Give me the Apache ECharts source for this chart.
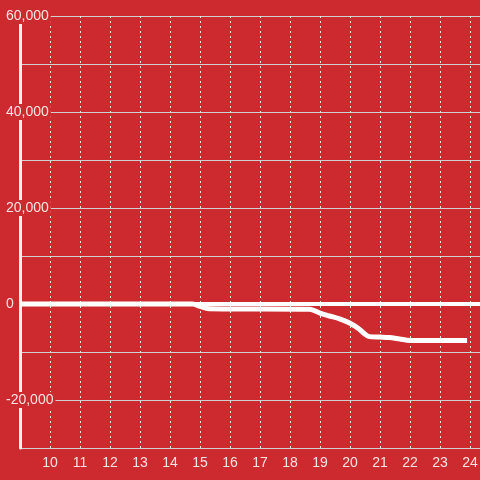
<html>
    <head>
        <meta charset="utf-8">
        <script src="https://cdn.jsdelivr.net/npm/echarts@6/dist/echarts.min.js"></script>
        <style>
            html, body { margin: 0; padding: 0; background: #cd2a2f; }
            #main { width: 480px; height: 480px; }
        </style>
    </head>
    <body>
        <div id="main"></div>
        <script>
        // hour of day and running value
        var hours = [9.0, 14.75, 15.0, 15.3, 18.65, 19.0, 19.32, 19.65, 20.0, 20.3, 20.5, 20.65, 21.0, 21.3, 21.65, 22.0, 23.9];
        var values = [0, 0, -500, -1000, -1100, -1900, -2500, -3100, -4000, -5200, -6300, -6800, -6900, -7000, -7300, -7600, -7600];
        var yTicks = [-30000, 60000, 10000];   // min, max, step
        var xTicks = [9, 24.33, 1];

        var bg = '#cd2a2f';
        var txt = '#f5e3e3';

        var chart = echarts.init(document.getElementById('main'));
        var pts = hours.map(function (h, i) { return [h, values[i]]; });

        chart.setOption({
            backgroundColor: bg,
            animation: false,
            grid: { left: 20, right: 0, top: 16, bottom: 32, outerBoundsMode: 'none' },
            xAxis: {
                type: 'value',
                min: xTicks[0], max: xTicks[1], interval: xTicks[2],
                axisLine: { lineStyle: { color: '#cfcfcf', width: 1 } },
                axisTick: { show: false },
                axisLabel: {
                    color: txt, fontSize: 14, margin: 8,
                    formatter: function (v) { return (Number.isInteger(v) && v > 9) ? String(v) : ''; }
                },
                splitLine: { show: true, lineStyle: { color: '#e6e6e6', type: [2, 3], width: 1 } }
            },
            yAxis: {
                type: 'value',
                min: yTicks[0], max: yTicks[1], interval: yTicks[2],
                axisLine: { show: true, lineStyle: { color: '#f2f2f2', width: 3 } },
                axisTick: { show: false },
                axisLabel: {
                    color: txt, fontSize: 14, margin: 14, align: 'left',
                    backgroundColor: bg, padding: [1, 2, 1, 0],
                    formatter: function (v) {
                        return v % 20000 === 0 ? v.toLocaleString('en-US') : '';
                    }
                },
                splitLine: { show: true, lineStyle: { color: '#d0d0d0', width: 1 } }
            },
            series: [{
                type: 'line',
                data: pts,
                smooth: 0.3,
                showSymbol: false,
                lineStyle: { color: '#ffffff', width: 5, cap: 'butt' },
                markLine: {
                    silent: true,
                    symbol: 'none',
                    label: { show: false },
                    lineStyle: { color: '#ffffff', width: 4, type: 'solid' },
                    data: [{ yAxis: 0 }]
                }
            }]
        });
        </script>
    </body>
</html>
